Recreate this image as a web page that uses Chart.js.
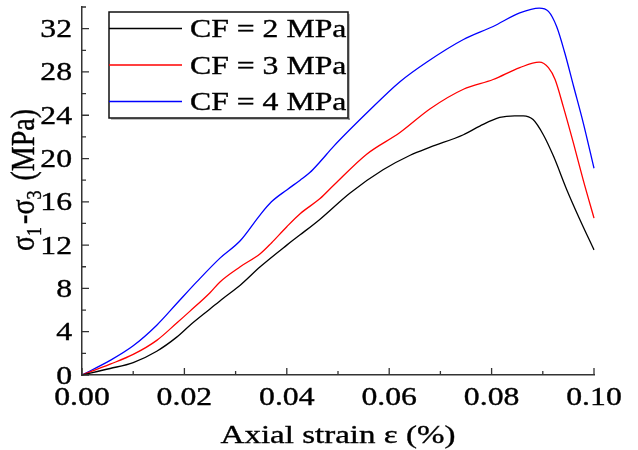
<!DOCTYPE html>
<html>
<head>
<meta charset="utf-8">
<script src="https://cdn.jsdelivr.net/npm/chart.js@4/dist/chart.umd.min.js"></script>
<style>
html,body{margin:0;padding:0;background:#fff;}
#wrap{width:638px;height:450px;position:relative;}
</style>
</head>
<body>
<div id="wrap"><canvas id="c" width="638" height="450"></canvas></div>
<script>
// ---- data ----
const seriesNames = ["CF = 2 MPa", "CF = 3 MPa", "CF = 4 MPa"];
const seriesColors = ["#000000", "#ff0000", "#0000ff"];

const strainCF2 = [0, 0.0055, 0.01, 0.0146, 0.0185, 0.0211, 0.025, 0.0276, 0.0309, 0.0348, 0.04, 0.0426, 0.0465, 0.0523, 0.0588, 0.0641, 0.068, 0.0745, 0.0777, 0.0816, 0.0845, 0.0862, 0.0881, 0.0901, 0.0921, 0.0947, 0.0973, 0.1];
const stressCF2 = [0, 0.6, 1.15, 2.2, 3.5, 4.6, 6.1, 7.1, 8.3, 10.0, 12.0, 12.95, 14.4, 16.8, 18.96, 20.3, 21.05, 22.2, 23.0, 23.8, 23.95, 23.95, 23.6, 22.2, 20.2, 17.1, 14.3, 11.56];

const strainCF3 = [0, 0.0055, 0.01, 0.0146, 0.0185, 0.0211, 0.025, 0.02695, 0.0309, 0.0348, 0.037, 0.04, 0.0426, 0.0465, 0.0491, 0.0556, 0.0621, 0.068, 0.0745, 0.0803, 0.0855, 0.0893, 0.0911, 0.0924, 0.094, 0.096, 0.0979, 0.1];
const stressCF3 = [0, 1.0, 1.9, 3.2, 4.8, 5.9, 7.6, 8.6, 10.0, 11.2, 12.2, 13.7, 14.9, 16.3, 17.5, 20.4, 22.4, 24.6, 26.4, 27.3, 28.4, 28.9, 28.4, 27.3, 24.8, 21.4, 18.0, 14.5];

const strainCF4 = [0, 0.0055, 0.01, 0.0146, 0.0185, 0.0224, 0.02695, 0.0309, 0.0348, 0.037, 0.04, 0.0426, 0.0445, 0.0465, 0.0491, 0.0556, 0.0621, 0.0673, 0.0745, 0.0803, 0.0855, 0.0893, 0.0911, 0.0927, 0.0943, 0.096, 0.0979, 0.1];
const stressCF4 = [0, 1.35, 2.7, 4.6, 6.6, 8.6, 10.8, 12.4, 14.8, 16.0, 17.1, 18.0, 18.7, 19.7, 21.1, 24.2, 27.1, 28.9, 31.0, 32.2, 33.45, 33.9, 33.6, 32.2, 29.75, 26.7, 23.3, 19.1];

const xMajorTicks = [0, 0.02, 0.04, 0.06, 0.08, 0.10];
const xTickLabels = ["0.00", "0.02", "0.04", "0.06", "0.08", "0.10"];
const xMinorTicks = [0.01, 0.03, 0.05, 0.07, 0.09];
const yMajorTicks = [0, 4, 8, 12, 16, 20, 24, 28, 32];
const yTickLabels = ["0", "4", "8", "12", "16", "20", "24", "28", "32"];
const yMinorTicks = [2, 6, 10, 14, 18, 22, 26, 30, 34];
const xTitle = "Axial strain ε (%)";

// ---- build datasets ----
function pts(xs, ys){ return xs.map((x,i)=>({x:x, y:ys[i]})); }
const allX = [strainCF2, strainCF3, strainCF4];
const allY = [stressCF2, stressCF3, stressCF4];
const datasets = seriesNames.map((n,i)=>({
  label: n,
  data: pts(allX[i], allY[i]),
  borderColor: seriesColors[i],
  backgroundColor: seriesColors[i],
  borderWidth: 1.3,
  pointRadius: 0,
  fill: false,
  cubicInterpolationMode: 'monotone',
  clip: false
}));

const SERIF = "'Liberation Serif', 'Times New Roman', serif";
const STRETCH = 1.27;

function stretchedText(ctx, text, x, y, align, size){
  ctx.save();
  ctx.font = size + "px " + SERIF;
  ctx.translate(x, y);
  ctx.scale(STRETCH, 1);
  ctx.textAlign = align;
  ctx.textBaseline = 'alphabetic';
  ctx.fillText(text, 0, 0);
  ctx.lineWidth = 0.35;
  ctx.strokeStyle = ctx.fillStyle;
  ctx.strokeText(text, 0, 0);
  ctx.restore();
}

const decorPlugin = {
  id: 'decor',
  afterDraw(chart){
    const ctx = chart.ctx;
    const xs = chart.scales.x, ys = chart.scales.y;
    const ca = chart.chartArea;
    ctx.save();
    ctx.strokeStyle = '#333';
    ctx.lineWidth = 1.3;
    ctx.fillStyle = '#000';
    // inward ticks
    ctx.beginPath();
    xMajorTicks.forEach(v=>{ const p = xs.getPixelForValue(v); ctx.moveTo(p, ca.bottom); ctx.lineTo(p, ca.bottom-7); });
    xMinorTicks.forEach(v=>{ const p = xs.getPixelForValue(v); ctx.moveTo(p, ca.bottom); ctx.lineTo(p, ca.bottom-4); });
    yMajorTicks.forEach(v=>{ const p = ys.getPixelForValue(v); ctx.moveTo(ca.left, p); ctx.lineTo(ca.left+7, p); });
    yMinorTicks.forEach(v=>{ const p = ys.getPixelForValue(v); ctx.moveTo(ca.left, p); ctx.lineTo(ca.left+4, p); });
    ctx.stroke();
    // tick labels
    xMajorTicks.forEach((v,i)=>{ stretchedText(ctx, xTickLabels[i], xs.getPixelForValue(v), ca.bottom+30, 'center', 25); });
    yMajorTicks.forEach((v,i)=>{ stretchedText(ctx, yTickLabels[i], ca.left-10, ys.getPixelForValue(v)+8.5, 'right', 25); });
    // x title
    stretchedText(ctx, xTitle, (ca.left+ca.right)/2, 443, 'center', 26);
    // y title with subscripts (rotated)
    ctx.save();
    ctx.translate(34, 180);
    ctx.rotate(-Math.PI/2);
    ctx.scale(1, 1.2);
    const big = "28px " + SERIF, small = "18px " + SERIF;
    const parts = [["σ", big, 0], ["1", small, 6], ["-σ", big, 0], ["3", small, 6], [" (MPa)", big, 0]];
    let total = 0;
    parts.forEach(p=>{ ctx.font = p[1]; total += ctx.measureText(p[0]).width; });
    total += 6;
    let cx = -total/2;
    ctx.textBaseline = 'alphabetic';
    ctx.textAlign = 'left';
    ctx.fillStyle = '#000';
    ctx.strokeStyle = '#000';
    ctx.lineWidth = 0.35;
    parts.forEach(p=>{ ctx.font = p[1]; ctx.fillText(p[0], cx, p[2]); ctx.strokeText(p[0], cx, p[2]); cx += ctx.measureText(p[0]).width + (p[1]===small?3:0); });
    ctx.restore();
    // legend
    const lx = 109, ly = 12, lw = 239, lh = 106;
    ctx.fillStyle = 'rgba(0,0,0,0.25)';
    ctx.fillRect(lx+2, ly+lh, lw, 2);
    ctx.fillRect(lx+lw, ly+2, 2, lh);
    ctx.fillStyle = '#fff';
    ctx.fillRect(lx, ly, lw, lh);
    ctx.strokeStyle = '#111';
    ctx.lineWidth = 1.5;
    ctx.strokeRect(lx, ly, lw, lh);
    const rows = [28.5, 65, 101.5];
    chart.data.datasets.forEach((ds,i)=>{
      ctx.strokeStyle = ds.borderColor;
      ctx.lineWidth = 1.3;
      ctx.beginPath();
      ctx.moveTo(lx, rows[i]); ctx.lineTo(182, rows[i]);
      ctx.stroke();
      ctx.fillStyle = '#000';
      stretchedText(ctx, ds.label, 190, rows[i]+8.5, 'left', 25);
    });
    ctx.restore();
  }
};

new Chart(document.getElementById('c'), {
  type: 'line',
  data: { datasets: datasets },
  options: {
    responsive: false,
    animation: false,
    events: [],
    layout: { padding: { top: 7, right: 44, left: 0, bottom: 0 } },
    plugins: { legend: { display: false }, tooltip: { enabled: false } },
    scales: {
      x: {
        type: 'linear', min: 0, max: 0.10,
        grid: { display: false, drawTicks: false },
        border: { display: true, color: '#333', width: 1.5 },
        ticks: { display: false },
        afterFit(s){ s.height = 75; }
      },
      y: {
        type: 'linear', min: 0, max: 34,
        grid: { display: false, drawTicks: false },
        border: { display: true, color: '#333', width: 1.5 },
        ticks: { display: false },
        afterFit(s){ s.width = 82; }
      }
    }
  },
  plugins: [decorPlugin]
});
</script>
</body>
</html>
